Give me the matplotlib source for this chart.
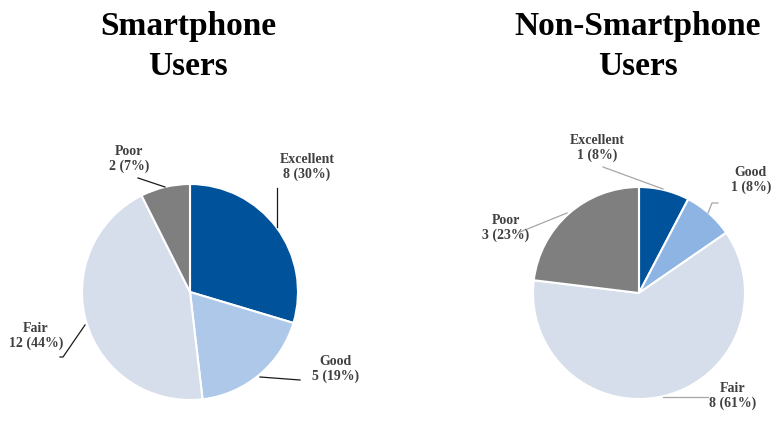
import matplotlib.pyplot as plt

# data
categories = ['Excellent', 'Good', 'Fair', 'Poor']
smart_counts = [8, 5, 12, 2]
smart_pcts = [30, 19, 44, 7]
nonsmart_counts = [1, 1, 8, 3]
nonsmart_pcts = [8, 8, 61, 23]

smart_colors = ['#00539B', '#ADC8E9', '#D5DEEA', '#7F7F7F']
nonsmart_colors = ['#00539B', '#8EB4E3', '#D5DEEA', '#7F7F7F']

W, H = 779, 425
TXT = '#404040'
plt.rcParams['font.family'] = ['Liberation Serif', 'DejaVu Serif']


def py(y):
    # pixel row (from top) -> data y (up)
    return H - y


fig = plt.figure(figsize=(W / 100, H / 100), dpi=100)
ax = fig.add_axes([0, 0, 1, 1])

# layout: pie centres / radii in pixels
pies = [
    dict(counts=smart_counts, pcts=smart_pcts, colors=smart_colors,
         center=(190, 292), r=108, title=['Smartphone', 'Users'], tx=188,
         line_color='#1a1a1a',
         labels=[(307, 167), (336, 369), (36, 336), (129, 159)],
         leaders=[[(277, 188), (277, 227)],
                  [(300, 380), (260, 377)],
                  [(60, 357), (63, 357), (85, 325)],
                  [(138, 178), (165, 187)]]),
    dict(counts=nonsmart_counts, pcts=nonsmart_pcts, colors=nonsmart_colors,
         center=(639, 293), r=106, title=['Non-Smartphone', 'Users'], tx=638,
         line_color='#a6a6a6',
         labels=[(597, 148), (751, 180), (733, 396), (506, 228)],
         leaders=[[(603, 167), (663, 189)],
                  [(718, 203), (712, 203), (708, 213)],
                  [(708, 397), (663, 397)],
                  [(520, 232), (567, 213)]]),
]

for p in pies:
    cx, cy = p['center']
    ax.pie(p['counts'], colors=p['colors'], startangle=90, counterclock=False,
           center=(cx, py(cy)), radius=p['r'],
           wedgeprops=dict(edgecolor='white', linewidth=1.5))
    for cat, n, pct, (lx, ly), pts in zip(categories, p['counts'], p['pcts'],
                                          p['labels'], p['leaders']):
        ax.text(lx, py(ly), f'{cat}\n{n} ({pct}%)', ha='center', va='center',
                fontsize=10, fontweight='bold', color=TXT, linespacing=1.2)
        ax.plot([q[0] for q in pts], [py(q[1]) for q in pts],
                color=p['line_color'], lw=0.9)
    for line, base in zip(p['title'], [35, 75]):
        ax.text(p['tx'], py(base), line, ha='center', va='baseline',
                fontsize=24, fontweight='bold', color='black')

ax.set_aspect('auto')
ax.set_xlim(0, W)
ax.set_ylim(0, H)
ax.axis('off')

fig.savefig('out.png', dpi=100)
